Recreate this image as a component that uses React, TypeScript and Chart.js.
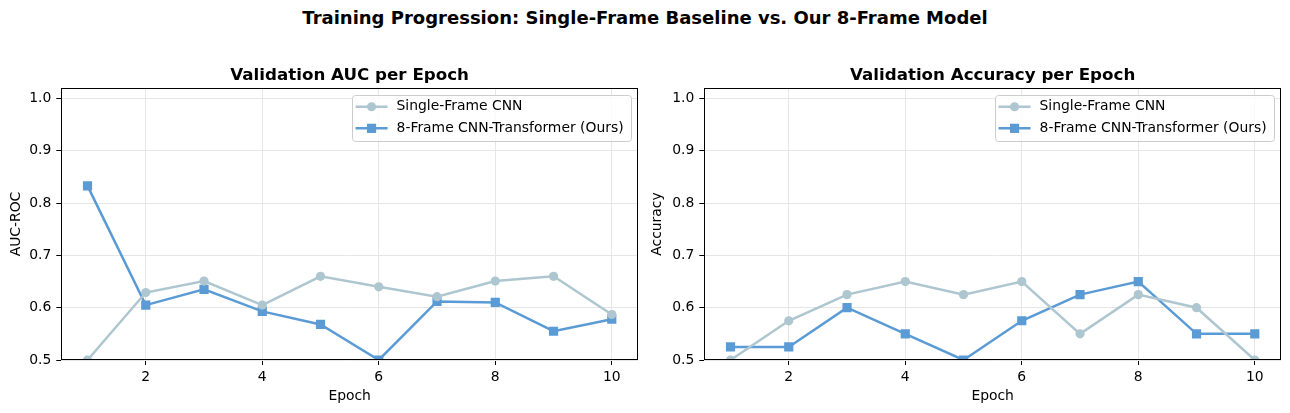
import React, { useEffect, useRef } from "react";
import { Chart, registerables } from "chart.js";
Chart.register(...registerables);

// ---- data ----
const epochs = [1, 2, 3, 4, 5, 6, 7, 8, 9, 10];
const aucSingle = [0.5, 0.629, 0.651, 0.605, 0.66, 0.64, 0.621, 0.651, 0.66, 0.587];
const aucOurs = [0.833, 0.605, 0.635, 0.593, 0.568, 0.5, 0.612, 0.61, 0.555, 0.578];
const accSingle = [0.5, 0.575, 0.625, 0.65, 0.625, 0.65, 0.55, 0.625, 0.6, 0.5];
const accOurs = [0.525, 0.525, 0.6, 0.55, 0.5, 0.575, 0.625, 0.65, 0.55, 0.55];
const xTicks = [2, 4, 6, 8, 10];
const yTicks = [0.5, 0.6, 0.7, 0.8, 0.9, 1.0];
const seriesNames = ["Single-Frame CNN", "8-Frame CNN-Transformer (Ours)"];
const suptitle = "Training Progression: Single-Frame Baseline vs. Our 8-Frame Model";
const panelTitles = ["Validation AUC per Epoch", "Validation Accuracy per Epoch"];
const yLabels = ["AUC-ROC", "Accuracy"];
const xLabel = "Epoch";

const FONT = "'DejaVu Sans', sans-serif";
const FS = 13.9;
const COLOR_SINGLE = "#aec6cf";
const COLOR_OURS = "#5b9bd5";

const framePlugin = {
  id: "frame",
  afterDatasetsDraw(chart: any) {
    const { ctx, chartArea } = chart;
    ctx.save();
    ctx.strokeStyle = "#000";
    ctx.lineWidth = 1;
    const l = Math.round(chartArea.left) + 0.5;
    const t = Math.round(chartArea.top) + 0.5;
    const r = Math.round(chartArea.right) - 0.5;
    const b = Math.round(chartArea.bottom) - 0.5;
    ctx.strokeRect(l, t, r - l, b - t);
    ctx.restore();
  },
};

const legendPlugin = {
  id: "innerLegend",
  afterDraw(chart: any) {
    const { ctx, chartArea } = chart;
    const ds = chart.data.datasets;
    ctx.save();
    ctx.font = `${FS}px ${FONT}`;
    const maxW = Math.max(...ds.map((d: any) => ctx.measureText(d.label).width));
    const boxW = 3.3 + 32 + 9 + maxW + 7.7;
    const boxH = 46;
    const x = chartArea.right - 6.7 - boxW;
    const y = chartArea.top + 7;
    ctx.beginPath();
    (ctx as any).roundRect(Math.round(x) + 0.5, Math.round(y) + 0.5, Math.round(boxW), boxH, 3);
    ctx.fillStyle = "rgba(255,255,255,0.8)";
    ctx.fill();
    ctx.strokeStyle = "#cccccc";
    ctx.lineWidth = 1;
    ctx.stroke();
    ds.forEach((d: any, i: number) => {
      const cy = y + 11.7 + i * 21.6;
      ctx.beginPath();
      ctx.moveTo(x + 3.3, cy);
      ctx.lineTo(x + 35.3, cy);
      ctx.strokeStyle = d.borderColor;
      ctx.lineWidth = d.borderWidth;
      ctx.stroke();
      ctx.fillStyle = d.borderColor;
      const mx = x + 19.3;
      if (d.pointStyle === "rect") {
        const s = 4.6;
        ctx.fillRect(mx - s, cy - s, 2 * s, 2 * s);
      } else {
        ctx.beginPath();
        ctx.arc(mx, cy, d.pointRadius, 0, Math.PI * 2);
        ctx.fill();
      }
      ctx.fillStyle = "#000";
      ctx.textBaseline = "middle";
      ctx.textAlign = "left";
      ctx.fillText(d.label, x + 44.3, cy);
    });
    ctx.restore();
  },
};

function Panel({ left, title, yLabel, single, ours, yTitlePad }: any) {
  const ref = useRef<HTMLCanvasElement>(null);
  useEffect(() => {
    const chart = new Chart(ref.current as HTMLCanvasElement, {
      type: "line",
      data: {
        datasets: [
          {
            label: seriesNames[0],
            data: epochs.map((e, i) => ({ x: e, y: single[i] })),
            borderColor: COLOR_SINGLE,
            backgroundColor: COLOR_SINGLE,
            borderWidth: 2.5,
            pointStyle: "circle",
            pointRadius: 4.6,
            pointBorderWidth: 0,
            tension: 0,
            clip: 0,
          } as any,
          {
            label: seriesNames[1],
            data: epochs.map((e, i) => ({ x: e, y: ours[i] })),
            borderColor: COLOR_OURS,
            backgroundColor: COLOR_OURS,
            borderWidth: 2.5,
            pointStyle: "rect",
            pointRadius: 6.5,
            pointBorderWidth: 0,
            tension: 0,
            clip: 0,
          } as any,
        ],
      },
      options: {
        animation: false,
        responsive: false,
        layout: { padding: { left: 0, right: 7, top: 0, bottom: 0 } },
        plugins: {
          legend: { display: false },
          tooltip: { enabled: false },
          title: {
            display: true,
            fullSize: false,
            text: title,
            color: "#000",
            font: { family: FONT, size: 16.7, weight: "bold", lineHeight: 1.2 },
            padding: { top: 26, bottom: 2 },
          },
        },
        scales: {
          x: {
            type: "linear",
            min: 0.55,
            max: 10.45,
            afterBuildTicks: (s: any) => {
              s.ticks = xTicks.map((v) => ({ value: v }));
            },
            afterFit: (s: any) => {
              s.height = 53;
            },
            ticks: {
              color: "#000",
              font: { family: FONT, size: FS },
              padding: 4,
              maxRotation: 0,
              callback: (v: any) => String(v),
            },
            grid: {
              color: "#e6e6e6",
              lineWidth: 1,
              tickColor: "#000",
              tickLength: 5,
              tickWidth: 1,
            },
            border: { display: false },
            title: {
              display: true,
              text: xLabel,
              color: "#000",
              font: { family: FONT, size: FS },
              padding: { top: 0, bottom: 8.5 },
            },
          },
          y: {
            type: "linear",
            min: 0.5,
            max: 1.02,
            afterBuildTicks: (s: any) => {
              s.ticks = yTicks.map((v) => ({ value: v }));
            },
            afterFit: (s: any) => {
              s.width = 61.3;
            },
            ticks: {
              color: "#000",
              font: { family: FONT, size: FS },
              padding: 5,
              callback: (v: any) => Number(v).toFixed(1),
            },
            grid: {
              color: "#e6e6e6",
              lineWidth: 1,
              tickColor: "#000",
              tickLength: 5,
              tickWidth: 1,
            },
            border: { display: false },
            title: {
              display: true,
              text: yLabel,
              color: "#000",
              font: { family: FONT, size: FS },
              padding: { top: yTitlePad, bottom: 0 },
            },
          },
        },
      } as any,
      plugins: [framePlugin, legendPlugin],
    });
    return () => chart.destroy();
  }, []);
  return (
    <canvas
      ref={ref}
      width={645}
      height={373}
      style={{ position: "absolute", left, top: 40, width: 645, height: 373 }}
    />
  );
}

export default function App() {
  return (
    <div
      style={{
        position: "absolute",
        left: 0,
        top: 0,
        width: 1290,
        height: 413,
        background: "#fff",
        overflow: "hidden",
      }}
    >
      <div
        style={{
          position: "absolute",
          left: 0,
          top: 6,
          width: 1290,
          textAlign: "center",
          fontFamily: FONT,
          fontWeight: "bold",
          fontSize: 18,
          lineHeight: "24px",
          color: "#000",
        }}
      >
        {suptitle}
      </div>
      <Panel left={0} title={panelTitles[0]} yLabel={yLabels[0]} single={aucSingle} ours={aucOurs} yTitlePad={8} />
      <Panel left={643.4} title={panelTitles[1]} yLabel={yLabels[1]} single={accSingle} ours={accOurs} yTitlePad={6} />
    </div>
  );
}
